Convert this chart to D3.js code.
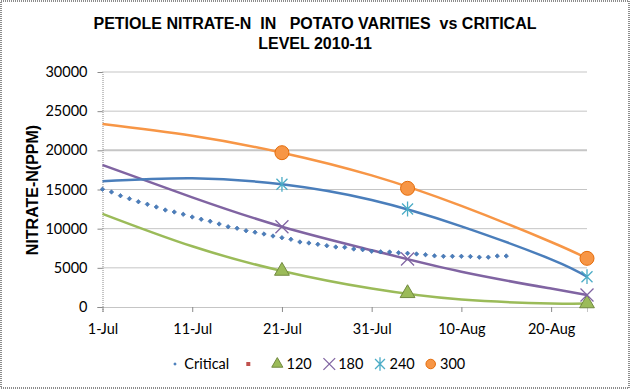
<!DOCTYPE html>
<html lang="en">
<head>
  <meta charset="UTF-8">
  <title>Petiole nitrate-N vs critical level</title>
  <script src="https://d3js.org/d3.v7.min.js"></script>
  <style>
    body {margin: 0; padding: 0; background: #fff;}
    svg {display: block;}
    .tick text {font-family: Lato, "Open Sans", sans-serif; font-size: 14.5px; fill: #000;}
    .legend text {font-family: Lato, "Open Sans", sans-serif; font-size: 14.5px; fill: #000;}
    .title {font-family: "Liberation Sans", Arial, sans-serif; font-weight: bold; font-size: 16px; white-space: pre;}
  </style>
</head>
<body>
  <div id="chart"></div>
  <script>
    // critical level: one reading per day from 1-Jul
    const criticalStart = "2010-07-01";
    const critical = [
      15030, 14680, 14210, 13830, 13440, 13110, 12770, 12380, 12130, 11830,
      11490, 11200, 10940, 10600, 10250, 10050, 9740, 9540, 9320, 9060,
      8850, 8640, 8300, 8170, 8000, 7830, 7660, 7620, 7400, 7320,
      7110, 7040, 7020, 6930, 6850, 6770, 6680, 6530, 6470, 6470,
      6470, 6450, 6360, 6360, 6510, 6510
    ];

    // sampled varieties
    const sampleDates = ["2010-07-21", "2010-08-04", "2010-08-24"];
    const v120 = [4600, 1750, 450];
    const v180 = [10250, 6130, 1530];
    const v240 = [15660, 12510, 3870];
    const v300 = [19700, 15150, 6210];

    // trend lines
    const trendDates = ["2010-07-01", "2010-07-11", "2010-07-21", "2010-07-31", "2010-08-10", "2010-08-20", "2010-08-24"];
    const t120 = [11900, 7750, 4600, 2350, 950, 460, 450];
    const t180 = [18130, 14000, 10250, 7250, 4500, 2350, 1530];
    const t240 = [16050, 16430, 15660, 13660, 10300, 6090, 3870];
    const t300 = [23350, 21850, 19700, 16800, 12900, 8300, 6210];

    const tickDates = ["2010-07-01", "2010-07-11", "2010-07-21", "2010-07-31", "2010-08-10", "2010-08-20"];
    const tickLabels = ["1-Jul", "11-Jul", "21-Jul", "31-Jul", "10-Aug", "20-Aug"];
    const yTicks = [0, 5000, 10000, 15000, 20000, 25000, 30000];

    const parse = d3.utcParse("%Y-%m-%d");
    const W = 630, H = 390;
    const plot = {left: 102.5, right: 587, top: 72, bottom: 307};

    const svg = d3.select("#chart").append("svg")
      .attr("width", W).attr("height", H);

    svg.append("rect")
      .attr("x", 1).attr("y", 1).attr("width", W - 2).attr("height", H - 3)
      .attr("fill", "#fff").attr("stroke", "#8c8c8c")
      .attr("stroke-width", 2).attr("stroke-dasharray", "1,1");

    const x = d3.scaleUtc()
      .domain([parse("2010-07-01"), parse("2010-08-24")])
      .range([plot.left, plot.right]);
    const y = d3.scaleLinear().domain([0, 30000]).range([plot.bottom, plot.top]);

    // gridlines
    svg.append("g").selectAll("line")
      .data(yTicks.filter(d => d > 0))
      .join("line")
        .attr("x1", plot.left).attr("x2", plot.right)
        .attr("y1", d => y(d)).attr("y2", d => y(d))
        .attr("stroke", d => d === 20000 ? "#c6c6c6" : "#8a8a8a")
        .attr("stroke-width", d => d === 20000 ? 2 : 1)
        .attr("stroke-dasharray", d => d === 20000 ? null : "1,1");

    const yAxis = svg.append("g")
      .attr("transform", `translate(${plot.left},0)`)
      .call(d3.axisLeft(y).tickValues(yTicks).tickSize(5).tickPadding(10).tickFormat(d3.format("d")));
    const xAxis = svg.append("g")
      .attr("transform", `translate(0,${plot.bottom})`)
      .call(d3.axisBottom(x).tickValues(tickDates.map(parse)).tickSize(5).tickPadding(12)
        .tickFormat((d, i) => tickLabels[i]));
    [yAxis, xAxis].forEach(g => {
      g.select(".domain").attr("stroke", "#8a8a8a").attr("stroke-dasharray", "1,1");
      g.selectAll(".tick line").attr("stroke", "#8a8a8a");
    });

    // title
    const title = svg.append("text").attr("class", "title")
      .attr("text-anchor", "middle").attr("x", 315);
    title.append("tspan").attr("x", 315).attr("y", 29)
      .text("PETIOLE NITRATE-N  IN   POTATO VARITIES  vs CRITICAL");
    title.append("tspan").attr("x", 315).attr("y", 48.5).text("LEVEL 2010-11");

    svg.append("text").attr("class", "title")
      .attr("transform", "translate(37.5,190) rotate(-90)")
      .attr("text-anchor", "middle")
      .text("NITRATE-N(PPM)");

    // trend lines
    const line = d3.line()
      .x((d, i) => x(parse(trendDates[i])))
      .y(d => y(d))
      .curve(d3.curveNatural);
    const trends = [
      {vals: t120, color: "#9bbb59"},
      {vals: t180, color: "#8064a2"},
      {vals: t240, color: "#4a7ebb"},
      {vals: t300, color: "#f79646"}
    ];
    svg.append("g").selectAll("path")
      .data(trends)
      .join("path")
        .attr("d", d => line(d.vals))
        .attr("fill", "none")
        .attr("stroke", d => d.color)
        .attr("stroke-width", 2.5);

    // critical level dots
    const critDates = critical.map((v, i) => d3.utcDay.offset(parse(criticalStart), i));
    svg.append("g").selectAll("path")
      .data(critical)
      .join("path")
        .attr("transform", (d, i) => `translate(${x(critDates[i])},${y(d)}) rotate(45)`)
        .attr("d", d3.symbol(d3.symbolSquare, 10))
        .attr("fill", "#4a7ebb").attr("stroke", "#3a68a8").attr("stroke-width", 0.6);

    // marker shapes
    function crossPath(r) {
      return `M${-r},${-r}L${r},${r}M${-r},${r}L${r},${-r}`;
    }
    function starPath(r) {
      return crossPath(r) + `M0,${-r * 1.35}L0,${r * 1.35}`;
    }
    const markers = [
      {vals: v120, draw: (g, s) => g.append("path").attr("d", d3.symbol(d3.symbolTriangle, 95 * s * s))
          .attr("fill", "#9bbb59").attr("stroke", "#71893f").attr("stroke-width", 1)},
      {vals: v180, draw: (g, s) => g.append("path").attr("d", crossPath(6.5 * s))
          .attr("fill", "none").attr("stroke", "#8064a2").attr("stroke-width", 1.3)},
      {vals: v240, draw: (g, s) => g.append("path").attr("d", starPath(5.5 * s))
          .attr("fill", "none").attr("stroke", "#4bacc6").attr("stroke-width", 1.3)},
      {vals: v300, draw: (g, s) => g.append("circle").attr("r", 7 * s)
          .attr("fill", "#f79646").attr("stroke", "#e46c0a").attr("stroke-width", 1)}
    ];
    markers.forEach(m => {
      m.vals.forEach((v, i) => {
        const g = svg.append("g")
          .attr("transform", `translate(${x(parse(sampleDates[i]))},${y(v)})`);
        m.draw(g, 1);
      });
    });

    // legend
    const leg = svg.append("g").attr("class", "legend");
    const ly = 364;
    leg.append("path").attr("transform", `translate(175,${ly}) rotate(45)`)
      .attr("d", d3.symbol(d3.symbolSquare, 6)).attr("fill", "#4a7ebb");
    leg.append("text").attr("x", 184.3).attr("y", ly).attr("dy", "0.35em").text("Critical");
    leg.append("rect").attr("x", 246.3).attr("y", ly - 2).attr("width", 4).attr("height", 4)
      .attr("fill", "#c0504d");
    const legItems = [
      {name: "120", mx: 277.3, tx: 286.5, idx: 0, s: 0.75},
      {name: "180", mx: 329.3, tx: 338.2, idx: 1, s: 0.9},
      {name: "240", mx: 380, tx: 389.5, idx: 2, s: 0.9},
      {name: "300", mx: 430.7, tx: 440, idx: 3, s: 0.68}
    ];
    legItems.forEach(d => {
      const g = leg.append("g").attr("transform", `translate(${d.mx},${ly})`);
      markers[d.idx].draw(g, d.s);
      leg.append("text").attr("x", d.tx).attr("y", ly).attr("dy", "0.35em").text(d.name);
    });
  </script>
</body>
</html>
